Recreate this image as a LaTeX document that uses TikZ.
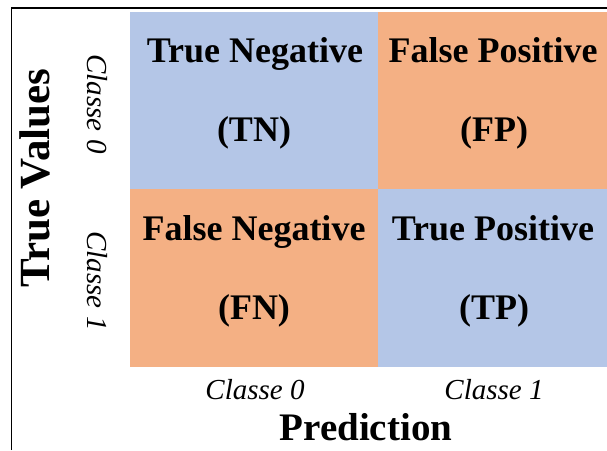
\documentclass[tikz,border=0pt]{standalone}
\usepackage{fontspec}
\setmainfont{Liberation Serif}
\definecolor{cblue}{RGB}{180,198,231}
\definecolor{corange}{RGB}{244,176,132}
\begin{document}
\begin{tikzpicture}[x=1pt,y=-1pt,
  cellbox/.style={anchor=north west,inner sep=0pt,outer sep=0pt,draw=none},
  celltext/.style={anchor=base,inner sep=0pt,font=\fontsize{36}{38}\selectfont\bfseries},
  classlabel/.style={inner sep=0pt,font=\fontsize{29}{31}\selectfont\itshape},
  axislabel/.style={inner sep=0pt,font=\fontsize{39}{41}\selectfont\bfseries},
  vaxislabel/.style={inner sep=0pt,font=\fontsize{43}{45}\selectfont\bfseries},
  frameline/.style={line width=1.6pt,black}]
\useasboundingbox (0,0) rectangle (607,450);
% frame
\coordinate (fl) at (11.5,450);
\coordinate (fc) at (11.5,8);
\coordinate (fr) at (607,8);
\draw[frameline] (fl) -- (fc) -- (fr);
% cells
\node[cellbox,fill=cblue,minimum width=248pt,minimum height=177pt] (tn) at (130,12) {};
\node[cellbox,fill=corange,minimum width=229pt,minimum height=177pt] (fp) at (378,12) {};
\node[cellbox,fill=corange,minimum width=248pt,minimum height=178pt] (fn) at (130,189) {};
\node[cellbox,fill=cblue,minimum width=229pt,minimum height=178pt] (tp) at (378,189) {};
% cell texts
\node[celltext] (tn1) at (255,62) {True Negative};
\node[celltext] (tn2) at (254,141) {(TN)};
\node[celltext] (fp1) at (493,62) {False Positive};
\node[celltext] (fp2) at (494,141) {(FP)};
\node[celltext] (fn1) at (254,240) {False Negative};
\node[celltext] (fn2) at (254,319) {(FN)};
\node[celltext] (tp1) at (493,240) {True Positive};
\node[celltext] (tp2) at (494,319) {(TP)};
% class labels
\node[classlabel,anchor=base] (c0x) at (255,399) {Classe 0};
\node[classlabel,anchor=base] (c1x) at (494,399) {Classe 1};
\node[classlabel,rotate=-90] (c0y) at (97,104) {Classe 0};
\node[classlabel,rotate=-90] (c1y) at (97,281) {Classe 1};
% axis labels
\node[axislabel,anchor=base] (pred) at (366,440) {Prediction};
\node[vaxislabel,rotate=90] (tv) at (35,178) {True Values};
\end{tikzpicture}
\end{document}
